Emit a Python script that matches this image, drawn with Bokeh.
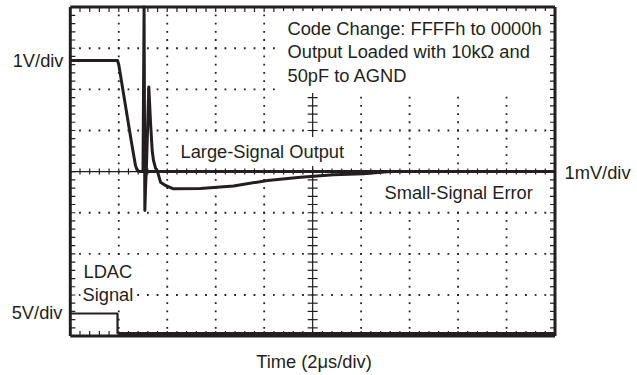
import numpy as np
from bokeh.plotting import figure
from bokeh.models import Label, Range1d
from bokeh.embed import file_html
from bokeh.resources import INLINE

# ---- data (x in divisions of 2us, y in divisions) ----
large_x = [0.0, 0.974, 1.0, 1.25, 1.30, 1.345, 1.38, 1.43, 10.0]
large_y = [2.70, 2.70, 2.60, 0.80, 0.45, 0.15, 0.03, 0.0, 0.0]

err_x = [1.40, 1.50, 1.522, 1.538, 1.555, 1.568, 1.62, 1.655, 1.69, 1.717, 1.76, 1.80,
         1.861, 1.964, 2.129, 2.686, 3.367, 4.069, 4.75, 5.43, 6.05, 6.6, 10.0]
err_y = [0.0, 0.0, 4.0, -0.946, -0.3, 0.0, 2.06, 1.2, 0.5, 0.27, 0.08, 0.0,
         -0.258, -0.338, -0.418, -0.411, -0.350, -0.216, -0.136, -0.078, -0.053, 0.0, 0.0]

ldac_x = [0.0, 0.974, 0.974, 10.0]
ldac_y = [-3.45, -3.45, -3.94, -3.94]

x_divs = 10
y_divs = 8
minor_step = 0.2

box_lines = ["Code Change: FFFFh to 0000h", "Output Loaded with 10k\u03a9 and", "50pF to AGND"]
ch1_label = "1V/div"
ch2_label = "1mV/div"
ch3_label = "5V/div"
x_title = "Time (2\u03bcs/div)"

INK = "#231f20"
FONT = "Liberation Sans"
FS = "18.3px"

W, H = 637, 375
X0, PXX = 69.8, 48.47      # page x of left frame edge, px per x-division
Y0, PXY = 171.1, 41.125    # page y of center line, px per y-division

p = figure(width=W, height=H, output_backend="svg", toolbar_location=None,
           x_range=Range1d(-X0 / PXX, (W - X0) / PXX),
           y_range=Range1d(-(H - Y0) / PXY, Y0 / PXY),
           min_border=0)
p.axis.visible = False
p.grid.visible = False
p.outline_line_color = None
p.background_fill_color = "white"
p.border_fill_color = "white"

xl, xr = 0, x_divs
yb, yt = -y_divs / 2, y_divs / 2

# dotted graticule
xs_minor = np.round(np.arange(minor_step, x_divs, minor_step), 3)
ys_minor = np.round(np.arange(-y_divs / 2 + minor_step, y_divs / 2, minor_step), 3)
gx, gy = [], []
for xv in range(1, x_divs):
    if xv == x_divs // 2:
        continue
    gx += [xv] * len(ys_minor)
    gy += list(ys_minor)
for yv in range(-y_divs // 2 + 1, y_divs // 2):
    if yv == 0:
        continue
    gx += list(xs_minor)
    gy += [yv] * len(xs_minor)
p.scatter(gx, gy, marker="square", size=1.8, color=INK, line_color=None)

# center cross lines
p.segment([xl, x_divs / 2], [0, yb], [xr, x_divs / 2], [0, yt], line_color=INK, line_width=1.2)

# ticks
tkx, tky = 5 / PXX, 5 / PXY
tx0, ty0, tx1, ty1 = [], [], [], []
for xv in xs_minor:
    tx0.append(xv); ty0.append(-3 / PXY); tx1.append(xv); ty1.append(3 / PXY)
for yv in ys_minor:
    tx0.append(x_divs / 2 - tkx); ty0.append(yv); tx1.append(x_divs / 2 + tkx); ty1.append(yv)
for xv in xs_minor:
    tx0 += [xv, xv]; ty0 += [yb, yt]; tx1 += [xv, xv]; ty1 += [yb + tky, yt - tky]
for yv in ys_minor:
    tx0 += [xl, xr]; ty0 += [yv, yv]; tx1 += [xl + tkx, xr - tkx]; ty1 += [yv, yv]
p.segment(tx0, ty0, tx1, ty1, line_color=INK, line_width=1.2)

# traces
p.line(large_x, large_y, line_color=INK, line_width=3, line_join="round")
p.line(err_x, err_y, line_color=INK, line_width=3, line_join="round")
p.line(ldac_x[:3], ldac_y[:3], line_color=INK, line_width=2.2)
p.line(ldac_x[2:], ldac_y[2:], line_color=INK, line_width=3.5)

def lab(px, py, text, align="left", bg=None, pad=0, lh=1.2):
    # px, py: page pixel anchor of the text (left/right/center edge, cap middle)
    if align == "left":
        px -= pad
    l = Label(x=(px - X0) / PXX, y=(Y0 - py) / PXY, text=text, text_align=align,
              text_baseline="middle", text_font=FONT, text_font_size=FS,
              text_color=INK, text_line_height=lh, padding=pad)
    if bg:
        l.background_fill_color = bg
    p.add_layout(l)

lab(287, 51.5, "\n".join(box_lines), bg="white", pad=7, lh=1.12)
lab(180, 151, "Large-Signal Output", bg="white", pad=4)
lab(384, 192, "Small-Signal Error", bg="white", pad=3)
lab(83, 271, "LDAC", bg="white", pad=2)
lab(82, 294, "Signal", bg="white", pad=2)
lab(63, 60, ch1_label, align="right")
lab(62, 312, ch3_label, align="right")
lab(564, 172, ch2_label)
lab(313.5, 361, x_title, align="center")

# scope frame (drawn last, on top)
p.segment([xl, xr], [yb, yb], [xl, xr], [yt, yt], line_color=INK, line_width=3)
p.segment([xl, xl], [yb, yt], [xr, xr], [yb, yt], line_color=INK, line_width=3)

open("out.html", "w").write(file_html(p, INLINE))
